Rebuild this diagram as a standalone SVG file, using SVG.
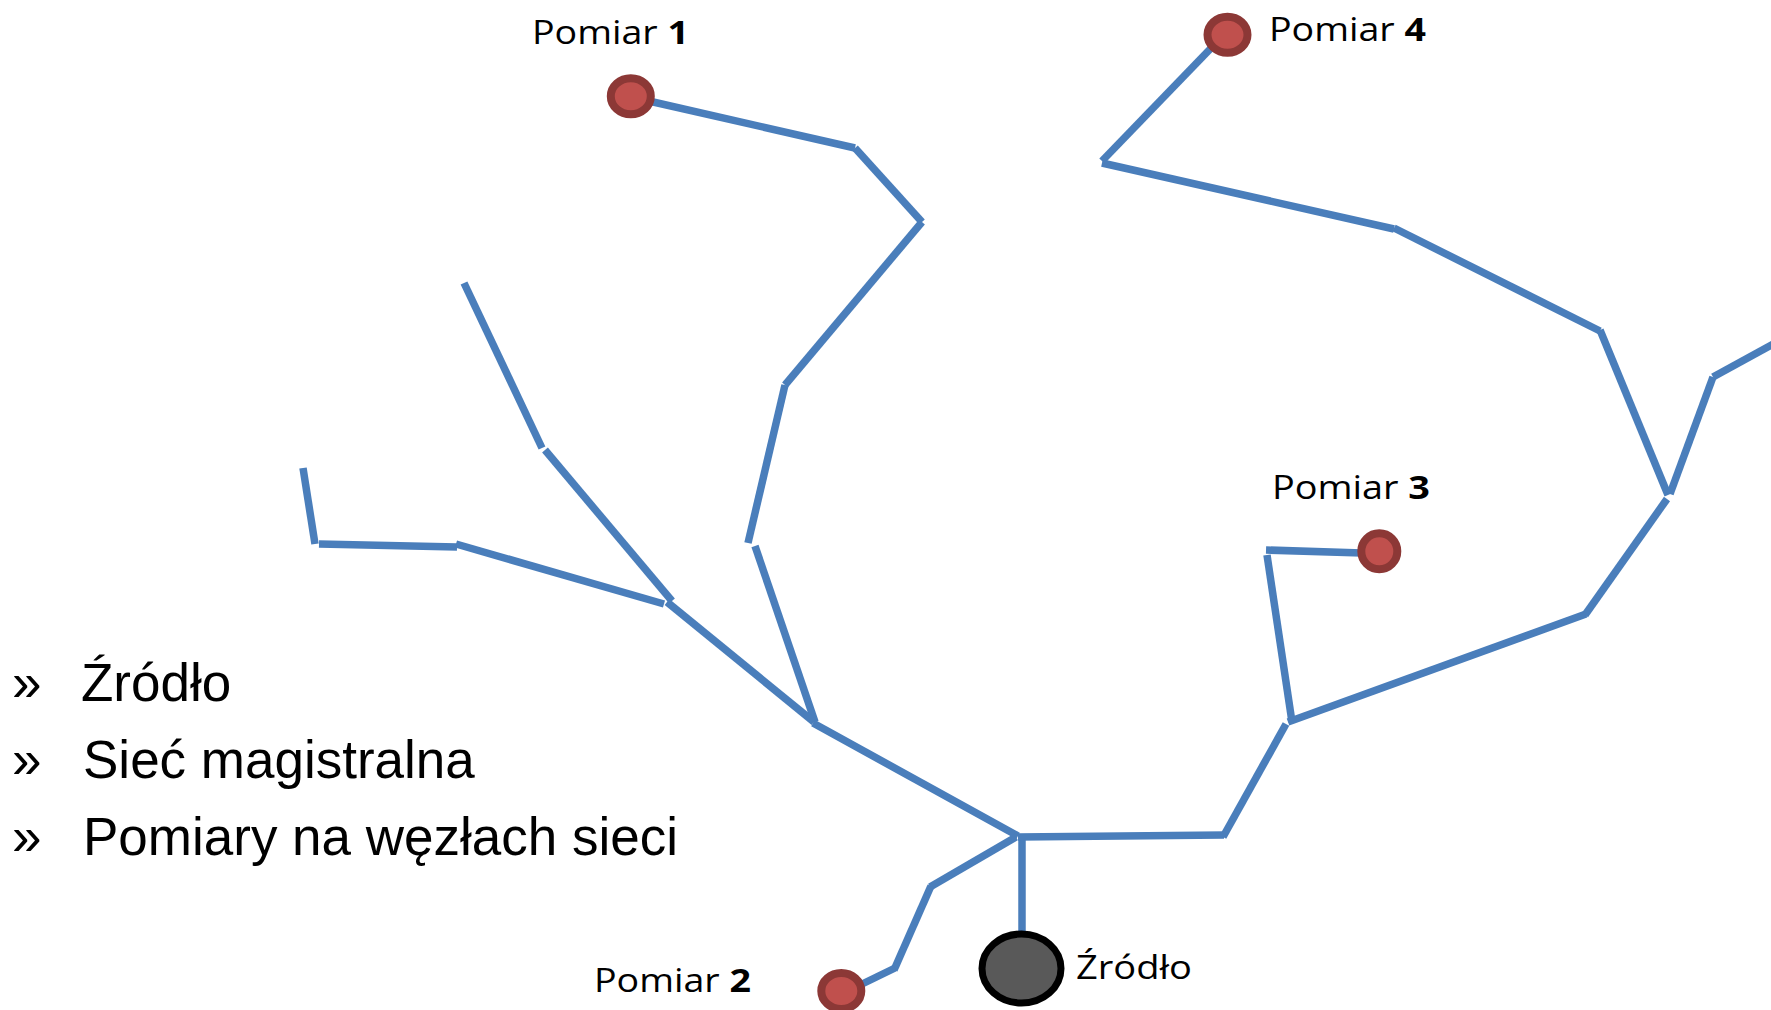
<svg xmlns="http://www.w3.org/2000/svg" width="1771" height="1010" viewBox="0 0 1771 1010">
  <style>
    .pipe { stroke: #4A7EBB; stroke-width: 7.5; stroke-linecap: butt; fill: none; }
    .meter { fill: #C0504D; stroke: #8C3836; stroke-width: 8; }
    .source { fill: #595959; stroke: #000000; stroke-width: 7; }
    .label { font-family: "Open Sans", Lato, "Liberation Sans", sans-serif; font-size: 32.5px; fill: #000000; }
    .label .num { font-weight: bold; }
    .legend { font-family: "Liberation Sans", Arial, sans-serif; font-size: 53px; fill: #000000; }
  </style>

  <rect width="1771" height="1010" fill="#FFFFFF"/>

  <!-- Legend -->
  <g id="legend" class="legend">
    <text x="12" y="701">»</text>
    <text x="81" y="701">Źródło</text>
    <text x="12" y="778">»</text>
    <text x="83" y="778">Sieć magistralna</text>
    <text x="12" y="855">»</text>
    <text x="83" y="855">Pomiary na węzłach sieci</text>
  </g>

  <!-- Pipe network: each straight run is its own segment -->
  <g id="pipes" class="pipe">
    <!-- branch to Pomiar 1 -->
    <line x1="640" y1="99" x2="855" y2="148"/>
    <line x1="855" y1="148" x2="922" y2="222"/>
    <line x1="922" y1="222" x2="785" y2="385"/>
    <line x1="785" y1="385" x2="748" y2="543"/>
    <line x1="755" y1="546" x2="815" y2="722"/>
    <!-- western branches -->
    <line x1="464" y1="283" x2="542" y2="448"/>
    <line x1="545" y1="450" x2="672" y2="601"/>
    <line x1="303" y1="468" x2="315" y2="544"/>
    <line x1="319" y1="544" x2="457" y2="547"/>
    <line x1="456" y1="544" x2="664" y2="604"/>
    <line x1="667" y1="602" x2="814" y2="722"/>
    <!-- trunk to the source junction -->
    <line x1="813" y1="723" x2="1018" y2="836"/>
    <line x1="1022" y1="837" x2="1022" y2="931"/>
    <!-- branch to Pomiar 2 -->
    <line x1="1016" y1="837" x2="930" y2="887"/>
    <line x1="931" y1="886" x2="894" y2="970"/>
    <line x1="895" y1="968" x2="858" y2="986"/>
    <!-- eastern main -->
    <line x1="1018" y1="837" x2="1224" y2="835"/>
    <line x1="1223" y1="837" x2="1286" y2="724"/>
    <line x1="1292" y1="722" x2="1267" y2="555"/>
    <line x1="1266" y1="550" x2="1362" y2="553"/>
    <line x1="1288" y1="722" x2="1586" y2="614"/>
    <line x1="1585" y1="615" x2="1667" y2="499"/>
    <line x1="1668" y1="495" x2="1600" y2="330"/>
    <line x1="1670" y1="494" x2="1713" y2="377"/>
    <line x1="1713" y1="377" x2="1775" y2="343"/>
    <line x1="1600" y1="331" x2="1394" y2="228"/>
    <line x1="1394" y1="229" x2="1102" y2="163"/>
    <line x1="1102" y1="161" x2="1215" y2="44"/>
  </g>

  <!-- Source -->
  <g id="node-zrodlo">
    <ellipse class="source" cx="1021.5" cy="968.5" rx="39.5" ry="34.5"/>
    <text class="label" x="1076" y="979" textLength="116" lengthAdjust="spacingAndGlyphs">Źródło</text>
  </g>

  <!-- Measurement points -->
  <g id="node-pomiar-1">
    <ellipse class="meter" cx="630.8" cy="96.3" rx="20" ry="18"/>
    <text class="label" x="532" y="44" textLength="157" lengthAdjust="spacingAndGlyphs">Pomiar <tspan class="num">1</tspan></text>
  </g>
  <g id="node-pomiar-2">
    <ellipse class="meter" cx="841.3" cy="991" rx="20" ry="18"/>
    <text class="label" x="594" y="991.5" textLength="157" lengthAdjust="spacingAndGlyphs">Pomiar <tspan class="num">2</tspan></text>
  </g>
  <g id="node-pomiar-3">
    <ellipse class="meter" cx="1379.3" cy="551.3" rx="18" ry="18"/>
    <text class="label" x="1272" y="499" textLength="158" lengthAdjust="spacingAndGlyphs">Pomiar <tspan class="num">3</tspan></text>
  </g>
  <g id="node-pomiar-4">
    <ellipse class="meter" cx="1227.5" cy="34.7" rx="20" ry="18"/>
    <text class="label" x="1269" y="40.7" textLength="157" lengthAdjust="spacingAndGlyphs">Pomiar <tspan class="num">4</tspan></text>
  </g>
</svg>
